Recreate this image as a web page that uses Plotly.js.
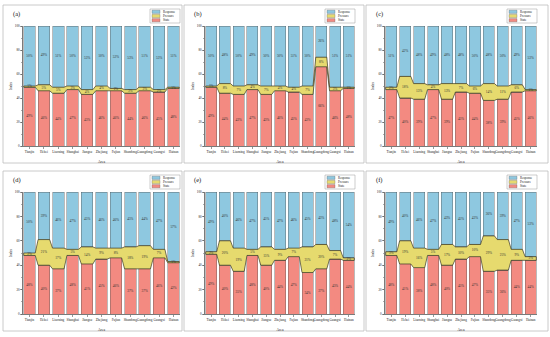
<!DOCTYPE html>
<html><head><meta charset="utf-8">
<script src="https://cdn.plot.ly/plotly-3.0.1.min.js"></script>
<style>html,body{margin:0;padding:0;background:#fff}#chart{width:550px;height:337px}</style>
</head><body><div id="chart"></div>
<script>
const areas = ['Tianjin','Hebei','Liaoning','Shanghai','Jiangsu','Zhejiang','Fujian','Shandong','Guangdong','Guangxi','Hainan'];
const panelLabels = ['(a)','(b)','(c)','(d)','(e)','(f)'];
const seriesNames = ['State','Pressure','Response'];
const yTicks = [0,20,40,60,80,100];

const stateA    = [49,46,44,47,43,46,46,44,46,45,48];
const pressureA = [1,5,5,3,4,4,2,3,3,2,1];
const responseA = [50,49,51,50,53,50,52,53,51,53,51];

const stateB    = [49,44,43,47,43,46,45,43,66,46,48];
const pressureB = [1,8,7,4,7,4,4,7,8,3,1];
const responseB = [50,48,50,49,50,50,51,50,26,51,51];

const stateC    = [47,40,39,47,39,45,44,38,39,45,46];
const pressureC = [2,18,13,4,13,7,6,14,11,6,1];
const responseC = [51,42,48,49,48,48,50,48,50,49,53];

const stateD    = [48,40,37,48,41,45,46,37,37,46,42];
const pressureD = [2,21,17,5,14,9,8,18,19,7,1];
const responseD = [50,39,46,47,45,46,46,45,44,47,57];

const stateE    = [49,40,35,48,40,44,47,34,37,45,44];
const pressureE = [2,20,19,5,15,9,7,21,20,7,2];
const responseE = [49,40,46,47,45,47,46,45,43,48,54];

const stateF    = [48,41,38,48,40,45,47,35,36,44,44];
const pressureF = [3,19,16,5,17,10,10,29,25,9,3];
const responseF = [49,40,46,47,43,45,43,36,39,47,53];

const panels = [
  [stateA,pressureA,responseA],[stateB,pressureB,responseB],[stateC,pressureC,responseC],
  [stateD,pressureD,responseD],[stateE,pressureE,responseE],[stateF,pressureF,responseF]
];

const colors = ['#F38A81','#E6DA6E','#8EC8E0'];
const edge = '#555555';
const bandLine = '#3a3826';
const FONT = 'Liberation Serif, Times New Roman, serif';
const W = 550, H = 337;
const px = v => v / W, py = v => 1 - v / H;

const colPx = [[23,180],[205,355],[385,537]];
const rowPx = [[26,146],[192,314]];
const boxX = [[3,182],[184,364],[366,548]];
const boxY = [[5,163],[171,331]];

const idx = areas.map((_, i) => i);
const bw = 0.8;
const traces = [];
const layout = {
  width: W, height: H,
  margin: {l:0,r:0,t:0,b:0},
  paper_bgcolor: '#fff', plot_bgcolor: '#fff',
  barmode: 'stack', showlegend: false,
  font: {family: FONT, size: 4, color: '#222'},
  shapes: [], annotations: []
};

panels.forEach((p, k) => {
  const r = Math.floor(k / 3), c = k % 3;
  const sfx = k === 0 ? '' : String(k + 1);
  const xa = 'x' + sfx, ya = 'y' + sfx;
  const [S, P, R] = p;
  [S, P, R].forEach((vals, s) => {
    traces.push({
      type: 'bar', x: idx, y: vals, width: bw, name: seriesNames[s],
      xaxis: xa, yaxis: ya,
      marker: {color: colors[s], line: {color: edge, width: 0.4}},
      hoverinfo: 'skip'
    });
  });
  const bx = [], by = [];
  idx.forEach(i => { const t = S[i] + P[i]; bx.push(i - bw/2, i + bw/2); by.push(t, t); });
  for (let i = idx.length - 1; i >= 0; i--) { bx.push(i + bw/2, i - bw/2); by.push(S[i], S[i]); }
  bx.push(bx[0]); by.push(by[0]);
  traces.push({type:'scatter', mode:'lines', x: bx, y: by, fill:'toself', fillcolor: colors[1],
    line:{color: bandLine, width: 0.7}, xaxis: xa, yaxis: ya, hoverinfo:'skip'});
  const bases = [idx.map(()=>0), S, S.map((v,i)=>v+P[i])];
  [S, P, R].forEach((vals, s) => {
    traces.push({type:'scatter', mode:'text', x: idx,
      y: vals.map((v,i)=>bases[s][i] + v/2), text: vals.map(v=>v+'%'),
      textfont:{size:3.4, color:'#333', family: FONT}, xaxis: xa, yaxis: ya,
      hoverinfo:'skip', cliponaxis:false});
  });

  const [x0, x1] = colPx[c], [y0, y1] = rowPx[r];
  layout['xaxis' + sfx] = {
    domain: [px(x0), px(x1)], anchor: ya, range: [-0.45, 10.45],
    tickmode: 'array', tickvals: idx, ticktext: areas,
    ticks: 'outside', ticklen: 2, tickwidth: 0.5, tickcolor: '#333',
    showline: true, linecolor: '#222', linewidth: 0.6, showgrid: false, zeroline: false,
    tickfont: {size: 3.3, family: FONT, color: '#222'}, tickangle: 0,
    title: {text: 'Area', font: {size: 3.6, family: FONT, color: '#222'}, standoff: 7},
    fixedrange: true
  };
  layout['yaxis' + sfx] = {
    domain: [py(y1), py(y0)], anchor: xa, range: [0, 100],
    tickmode: 'array', tickvals: yTicks,
    ticks: 'outside', ticklen: 2, tickwidth: 0.5, tickcolor: '#333',
    minor: {dtick: 10, ticks: 'outside', ticklen: 1, tickwidth: 0.4, tickcolor: '#333'},
    showline: true, linecolor: '#222', linewidth: 0.6, showgrid: false, zeroline: false,
    tickfont: {size: 3.3, family: FONT, color: '#222'},
    title: {text: 'Index', font: {size: 3.6, family: FONT, color: '#222'}, standoff: 2},
    fixedrange: true
  };
  layout.shapes.push({type:'rect', xref:'paper', yref:'paper',
    x0: px(boxX[c][0]), x1: px(boxX[c][1]), y0: py(boxY[r][1]), y1: py(boxY[r][0]),
    line:{color:'#bdbdbd', width:0.8}, fillcolor:'rgba(0,0,0,0)'});
  layout.annotations.push({xref:'paper', yref:'paper', x: px(boxX[c][0] + 8), y: py(boxY[r][0] + 9),
    text: panelLabels[k], showarrow:false, xanchor:'left', yanchor:'middle',
    font:{size:6.5, family: FONT, color:'#111'}});
  const lx1 = x1, lx0 = x1 - 30, ly0 = boxY[r][0] + 4, ly1 = ly0 + 14;
  layout.shapes.push({type:'rect', xref:'paper', yref:'paper',
    x0: px(lx0), x1: px(lx1), y0: py(ly1), y1: py(ly0),
    line:{color:'#999', width:0.5}, fillcolor:'#fff'});
  [2,1,0].forEach((s, j) => {
    const cy = ly0 + 2.8 + j * 4.2;
    layout.shapes.push({type:'rect', xref:'paper', yref:'paper',
      x0: px(lx0 + 2), x1: px(lx0 + 10), y0: py(cy + 1.6), y1: py(cy - 1.6),
      line:{color: edge, width:0.3}, fillcolor: colors[s]});
    layout.annotations.push({xref:'paper', yref:'paper', x: px(lx0 + 11), y: py(cy),
      text: seriesNames[s], showarrow:false, xanchor:'left', yanchor:'middle',
      font:{size:3.2, family: FONT, color:'#222'}});
  });
});

Plotly.newPlot('chart', traces, layout, {displayModeBar:false, staticPlot:true});
</script></body></html>
